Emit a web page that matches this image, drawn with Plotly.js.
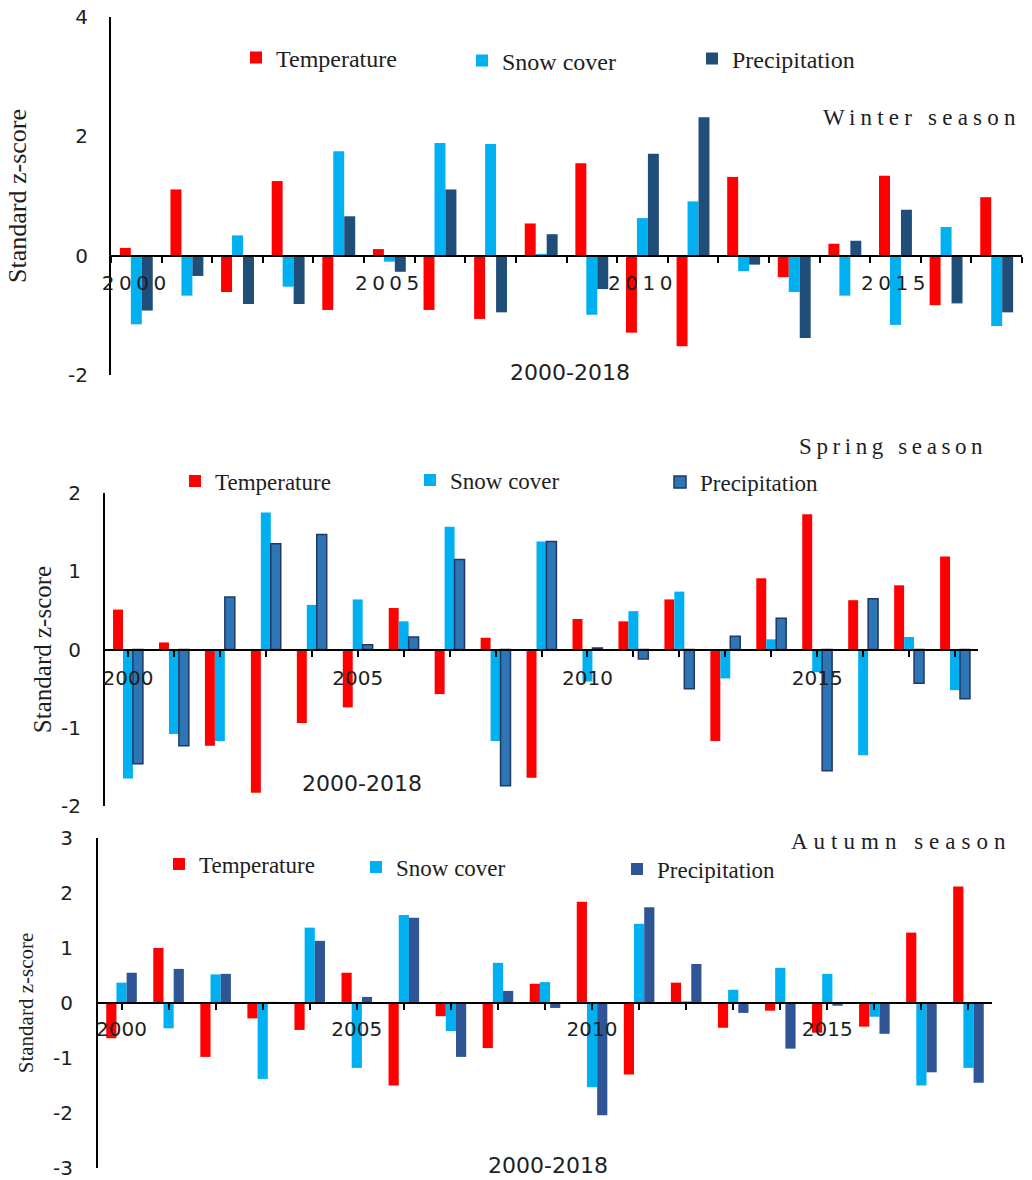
<!DOCTYPE html>
<html>
<head>
<meta charset="utf-8">
<script src="https://cdn.plot.ly/plotly-3.0.1.min.js"></script>
<style>html,body{margin:0;padding:0;background:#fff;}#chart{width:1032px;height:1180px;}</style>
</head>
<body>
<div id="chart"></div>
<script>
// ---------------- DATA ----------------
const winterYears = ["2000","2001","2002","2003","2004","2005","2006","2007","2008","2009","2010","2011","2012","2013","2014","2015","2016","2017"];
const winterTemp = [0.13, 1.11, -0.61, 1.25, -0.91, 0.11, -0.91, -1.06, 0.54, 1.55, -1.29, -1.52, 1.32, -0.36, 0.20, 1.34, -0.83, 0.98];
const winterSnow = [-1.15, -0.67, 0.34, -0.52, 1.75, -0.10, 1.89, 1.87, 0.03, -0.99, 0.63, 0.91, -0.26, -0.61, -0.67, -1.16, 0.48, -1.18];
const winterPrec = [-0.92, -0.34, -0.81, -0.81, 0.66, -0.27, 1.11, -0.95, 0.36, -0.56, 1.71, 2.32, -0.15, -1.38, 0.25, 0.77, -0.80, -0.95];

const years = ["2000","2001","2002","2003","2004","2005","2006","2007","2008","2009","2010","2011","2012","2013","2014","2015","2016","2017","2018"];
const springTemp = [0.51, 0.09, -1.23, -1.83, -0.94, -0.74, 0.53, -0.57, 0.15, -1.64, 0.39, 0.36, 0.64, -1.17, 0.91, 1.73, 0.63, 0.82, 1.19];
const springSnow = [-1.65, -1.08, -1.17, 1.75, 0.57, 0.64, 0.36, 1.57, -1.17, 1.38, -0.41, 0.49, 0.74, -0.37, 0.13, -0.29, -1.35, 0.16, -0.52];
const springPrec = [-1.46, -1.23, 0.67, 1.35, 1.47, 0.06, 0.16, 1.15, -1.74, 1.38, 0.02, -0.12, -0.50, 0.17, 0.40, -1.55, 0.65, -0.43, -0.63];

const autumnTemp = [-0.64, 1.00, -0.98, -0.28, -0.49, 0.55, -1.50, -0.24, -0.82, 0.35, 1.84, -1.30, 0.37, -0.45, -0.14, -0.54, -0.43, 1.28, 2.12];
const autumnSnow = [0.37, -0.46, 0.52, -1.38, 1.37, -1.18, 1.60, -0.51, 0.73, 0.38, -1.53, 1.44, 0.03, 0.24, 0.64, 0.53, -0.25, -1.50, -1.18];
const autumnPrec = [0.55, 0.62, 0.53, 0.02, 1.13, 0.11, 1.55, -0.98, 0.22, -0.09, -2.04, 1.74, 0.71, -0.18, -0.83, -0.05, -0.56, -1.26, -1.45];

const seriesNames = ["Temperature", "Snow cover", "Precipitation"];
const labelYears = ["2000", "2005", "2010", "2015"];
const winterYTicks = [-2, 0, 2, 4];
const springYTicks = [-2, -1, 0, 1, 2];
const autumnYTicks = [-3, -2, -1, 0, 1, 2, 3];
const seasonTitles = ["Winter season", "Spring season", "Autumn season"];
const periodLabel = "2000-2018";
const yTitle = "Standard z-score";

// ---------------- LAYOUT HELPERS ----------------
const W = 1032, H = 1180;
const fx = p => p / W;
const fy = p => 1 - p / H;

const SANS = "DejaVu Sans, sans-serif";
const SERIF = "Liberation Serif, Times New Roman, serif";
const INK = "#1e1e1e";

const panels = [
  { cats: winterYears, vals: [winterTemp, winterSnow, winterPrec], yticks: winterYTicks,
    box: {l: 111, r: 1022, t: 17, b: 375}, yr: [-2, 4],
    colors: ["#ff0000", "#00b0f0", "#1f4e79"], precLine: null,
    boundaries: true, spaced: true, tickStand: 9, yStand: 17,
    titleSize: 26, titleStand: 34,
    legend: [[276, 58], [502, 61], [732, 59]], legendSize: 24,
    season: [922, 117], seasonSpacing: 5.2, period: [570, 373] },
  { cats: years, vals: [springTemp, springSnow, springPrec], yticks: springYTicks,
    box: {l: 105, r: 978, t: 493, b: 806}, yr: [-2, 2],
    colors: ["#ff0000", "#00b0f0", "#2e75b6"], precLine: "#1f3864",
    boundaries: false, spaced: false, tickStand: 4, yStand: 18,
    titleSize: 25, titleStand: 2,
    legend: [[215, 481], [450, 480], [700, 482]], legendSize: 23,
    season: [893, 447], seasonSpacing: 4.6, period: [362, 783] },
  { cats: years, vals: [autumnTemp, autumnSnow, autumnPrec], yticks: autumnYTicks,
    box: {l: 98, r: 992, t: 838, b: 1168}, yr: [-3, 3],
    colors: ["#ff0000", "#00b0f0", "#2f5597"], precLine: null,
    boundaries: false, spaced: false, tickStand: 2, yStand: 19,
    titleSize: 21, titleStand: 14,
    legend: [[199, 864], [396, 867], [657, 869]], legendSize: 23,
    season: [901, 841], seasonSpacing: 6, period: [548, 1165] }
];

const TXOFF = 40; // text offset inside a legend item (px)
const traces = [];
const layout = {
  width: W, height: H,
  margin: {l: 0, r: 0, t: 0, b: 0, pad: 0},
  paper_bgcolor: "#ffffff", plot_bgcolor: "rgba(0,0,0,0)",
  barmode: "group", bargap: 0.35, bargroupgap: 0,
  showlegend: true,
  annotations: [],
  font: {family: SANS, color: INK}
};

let legendIdx = 0;
panels.forEach((p, i) => {
  const n = i + 1;
  const xa = "x" + (n === 1 ? "" : n), ya = "y" + (n === 1 ? "" : n);
  const xKey = "xaxis" + (n === 1 ? "" : n), yKey = "yaxis" + (n === 1 ? "" : n);
  const yDom = [fy(p.box.b), fy(p.box.t)];
  const zeroPos = yDom[0] + (yDom[1] - yDom[0]) * (0 - p.yr[0]) / (p.yr[1] - p.yr[0]);

  p.vals.forEach((v, s) => {
    legendIdx += 1;
    const lg = "legend" + (legendIdx === 1 ? "" : legendIdx);
    const marker = {color: p.colors[s]};
    if (s === 2 && p.precLine) marker.line = {color: p.precLine, width: 1.5};
    else marker.line = {width: 0};
    traces.push({
      type: "bar", name: seriesNames[s], x: p.cats, y: v,
      xaxis: xa, yaxis: ya, marker: marker, legend: lg,
      hoverinfo: "x+y+name"
    });
    layout[lg] = {
      x: fx(p.legend[s][0] - TXOFF), y: fy(p.legend[s][1]),
      xanchor: "left", yanchor: "middle",
      bgcolor: "rgba(0,0,0,0)", borderwidth: 0,
      font: {family: SERIF, size: p.legendSize, color: INK},
      itemwidth: 30, orientation: "h"
    };
  });

  const tickText = p.cats.map(c => {
    if (labelYears.indexOf(c) < 0) return "";
    return p.spaced ? '<span style="letter-spacing:4.5px">' + c + '</span>' : c;
  });

  layout[xKey] = {
    domain: [fx(p.box.l), fx(p.box.r)],
    anchor: "free", position: zeroPos,
    type: "category", range: [-0.5, p.cats.length - 0.5],
    tickmode: "array", tickvals: p.cats, ticktext: tickText,
    tickson: p.boundaries ? "boundaries" : "labels",
    ticks: "outside", ticklen: 6, tickwidth: 2, tickcolor: "#000",
    showline: true, linecolor: "#000", linewidth: 2,
    showgrid: false, zeroline: false,
    tickfont: {family: SANS, size: 20, color: INK},
    ticklabelstandoff: p.tickStand,
    tickangle: 0, automargin: false, fixedrange: true
  };
  layout[yKey] = {
    domain: yDom, anchor: xa, range: p.yr,
    tickmode: "array", tickvals: p.yticks, ticktext: p.yticks.map(t => String(t)),
    showline: true, linecolor: "#000", linewidth: 2,
    ticks: "", showgrid: false, zeroline: false,
    tickfont: {family: SANS, size: 20, color: INK},
    ticklabelstandoff: p.yStand,
    title: {text: yTitle, font: {family: SERIF, size: p.titleSize, color: INK}, standoff: p.titleStand},
    automargin: false, fixedrange: true
  };

  layout.annotations.push({
    xref: "paper", yref: "paper", x: fx(p.season[0]), y: fy(p.season[1]),
    xanchor: "center", yanchor: "middle", showarrow: false,
    text: '<span style="letter-spacing:' + p.seasonSpacing + 'px">' + seasonTitles[i] + '</span>',
    font: {family: SERIF, size: 23, color: INK}
  });
  layout.annotations.push({
    xref: "paper", yref: "paper", x: fx(p.period[0]), y: fy(p.period[1]),
    xanchor: "center", yanchor: "middle", showarrow: false,
    text: periodLabel,
    font: {family: SANS, size: 22, color: INK}
  });
});

Plotly.newPlot("chart", traces, layout, {staticPlot: true, displayModeBar: false});
</script>
</body>
</html>
